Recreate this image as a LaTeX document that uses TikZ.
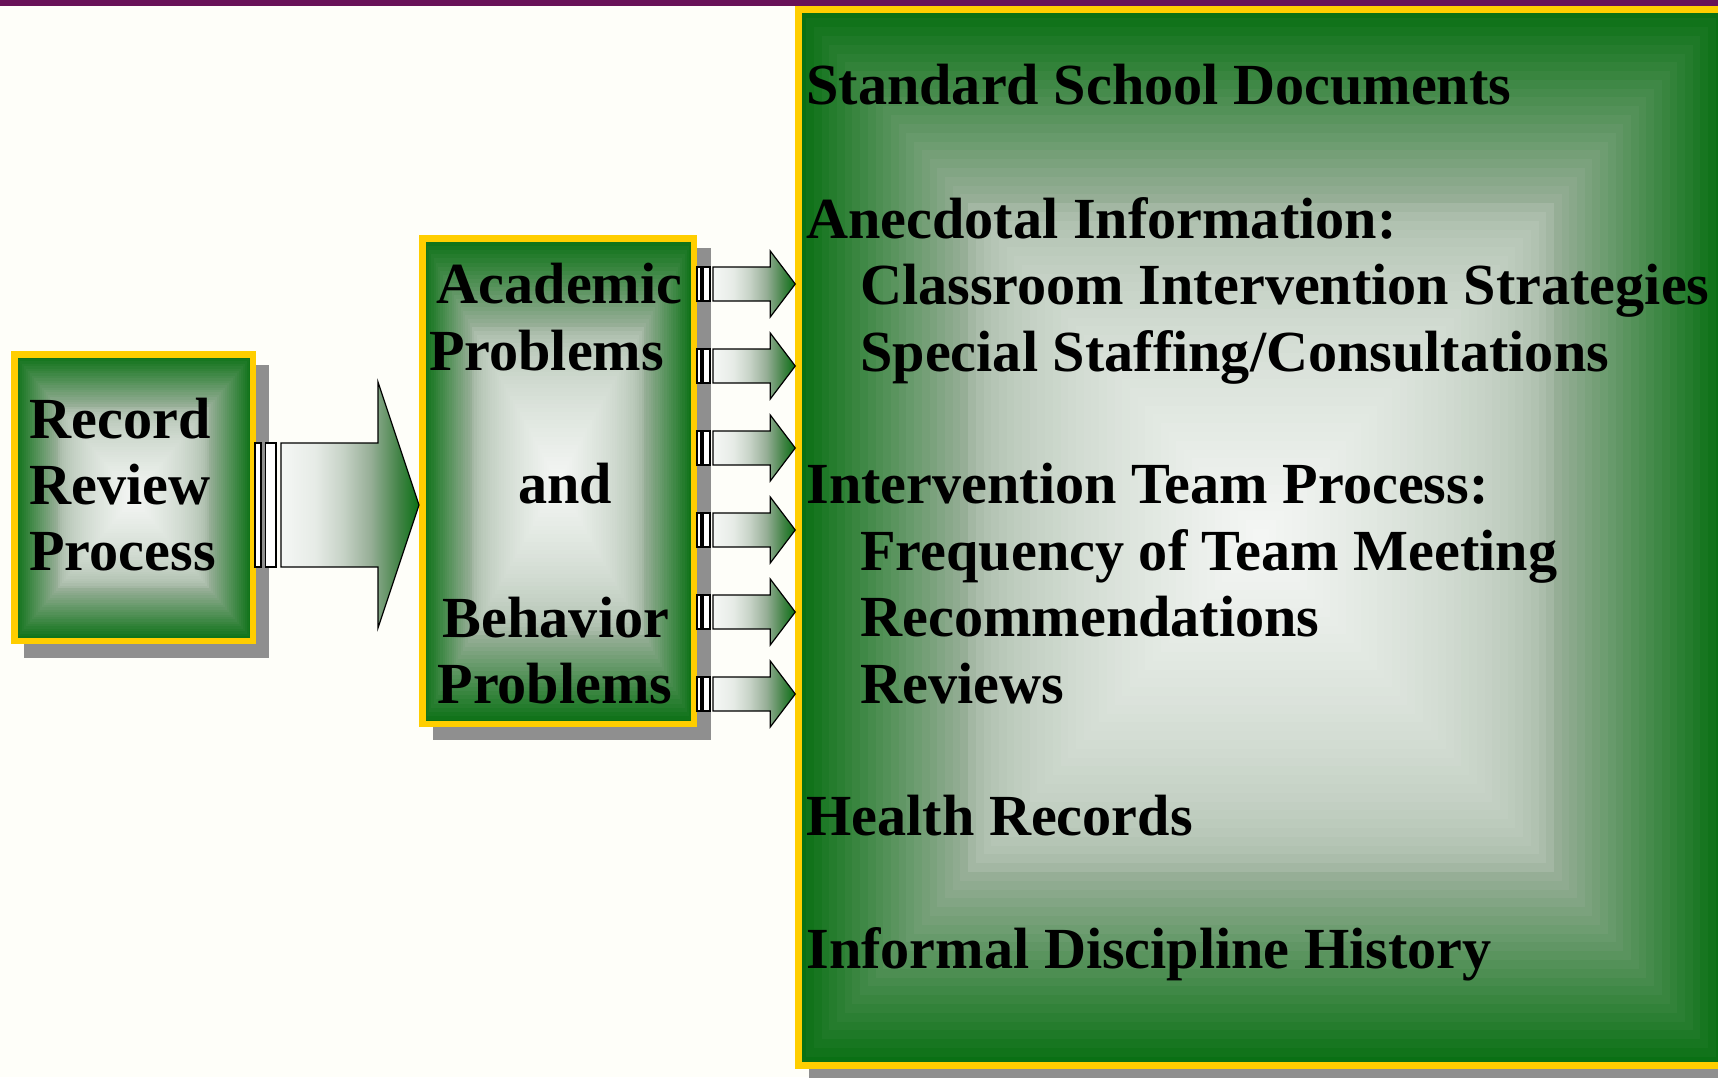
\documentclass[tikz,border=0pt]{standalone}
\usepackage{fontspec}
\setmainfont{Liberation Serif}
\usetikzlibrary{calc}

\definecolor{boxyellow}{RGB}{255,206,0}
\definecolor{topbar}{RGB}{104,18,88}
\definecolor{paper}{RGB}{254,254,249}
\definecolor{shadowgray}{RGB}{143,143,143}
\definecolor{ge}{RGB}{10,112,20}
\definecolor{g1}{RGB}{68,132,72}
\definecolor{g2}{RGB}{150,174,150}
\definecolor{g3}{RGB}{198,210,198}
\definecolor{g4}{RGB}{230,235,230}
\definecolor{gm}{RGB}{154,176,154}
\definecolor{gc}{RGB}{245,247,245}

\pgfdeclareverticalshading{edgeglow}{100bp}{color(0bp)=(gc); color(25bp)=(gc); color(37.5bp)=(g4); color(47.5bp)=(g3); color(57.5bp)=(g2); color(67.5bp)=(g1); color(75bp)=(ge); color(100bp)=(ge)}

\tikzset{
  gbox/.style={draw=boxyellow, line width=3.25pt, inner sep=0pt,
    path picture={
      \foreach \i in {0,...,59} {
        \pgfmathsetmacro\bandf{\i/60}
        \pgfmathsetmacro\bandp{\bandf<0.36 ? 100*\bandf/0.36 : 100*sqrt(max(0,(\bandf-0.36)/0.64))}
        \pgfmathtruncatemacro\bandlo{\bandf<0.36 ? 1 : 0}
        \ifnum\bandlo=1 \colorlet{band}{gm!\bandp!ge}\else\colorlet{band}{gc!\bandp!gm}\fi
        \fill[band] ($(path picture bounding box.north west)!\bandf!(path picture bounding box.center)$)
          rectangle ($(path picture bounding box.south east)!\bandf!(path picture bounding box.center)$);
      }
    }},
  arrowbody/.style={draw=black, line width=0.6pt, shade, shading=edgeglow, shading angle=270},
  arrowbar/.style={draw=black, line width=0.6pt, fill=white},
  txt/.style={font=\fontsize{29.1}{33.2}\selectfont\bfseries, inner sep=0pt, anchor=base west},
  ctxt/.style={txt, anchor=base},
}

\begin{document}
\begin{tikzpicture}[x=0.5pt, y=-0.5pt]

        \useasboundingbox (0,0) rectangle (1718,1077);
        \clip (0,0) rectangle (1718,1077);
        \fill[paper] (0,0) rectangle (1718,1077);
        \fill[topbar] (0,0) rectangle (1718,6);

        \fill[shadowgray] (24,365) rectangle (269,658);
        \fill[shadowgray] (433,248) rectangle (711,740);
        \fill[shadowgray] (809,20) rectangle (1740,1090);

        \node (rec) at (133.5,497.5) [gbox, minimum width=119.25pt, minimum height=143.25pt] {};
        \node (prob) at (558,481) [gbox, minimum width=135.75pt, minimum height=242.75pt] {};
        \node (docs) at (1261,537.5) [gbox, minimum width=462.5pt, minimum height=528pt] {};

        \coordinate (ya) at (0,505);
        \coordinate (bs) at (rec.east |- ya);
        \coordinate (bt) at (prob.west |- ya);
        \draw[arrowbar] ($(bs)+(-1,-62)$) rectangle ($(bs)+(5,62)$);
        \draw[arrowbar] ($(bs)+(9.7,-62)$) rectangle ($(bs)+(20,62)$);
        \draw[arrowbody] ($(bs)+(25,-62)$) -- ($(bt)+(-41,-62)$) -- ($(bt)+(-41,-123)$) -- (bt)
            -- ($(bt)+(-41,123)$) -- ($(bt)+(-41,62)$) -- ($(bs)+(25,62)$) -- cycle;

        \foreach \y in {284,366,448,530,612,694} {
            \coordinate (ya) at (0,\y);
            \coordinate (s) at (prob.east |- ya);
            \coordinate (t) at (docs.west |- ya);
            \draw[arrowbar] ($(s)+(0,-17)$) rectangle ($(s)+(4,17)$);
            \draw[arrowbar] ($(s)+(6,-17)$) rectangle ($(s)+(13,17)$);
            \draw[arrowbody] ($(s)+(16,-17)$) -- ($(t)+(-25,-17)$) -- ($(t)+(-25,-33)$) -- (t)
                -- ($(t)+(-25,33)$) -- ($(t)+(-25,17)$) -- ($(s)+(16,17)$) -- cycle;
        }

        \node (r1) at (29,438) [txt] {Record};
        \node (r2) at (29,504) [txt] {Review};
        \node (r3) at (29,570) [txt] {Process};

        \node (p1) at (559.5,303) [ctxt] {Academic};
        \node (p2) at (546.5,370) [ctxt] {Problems};
        \node (p3) at (565,503) [ctxt] {and};
        \node (p4) at (556,637) [ctxt] {Behavior};
        \node (p5) at (555,703) [ctxt] {Problems};

        \node (d1) at (806,104) [txt] {Standard School Documents};
        \node (d2) at (806,238) [txt] {Anecdotal Information:};
        \node (d3) at (860,304) [txt] {Classroom Intervention Strategies};
        \node (d4) at (860,371) [txt] {Special Staffing/Consultations};
        \node (d5) at (806,503) [txt] {Intervention Team Process:};
        \node (d6) at (860,570) [txt] {Frequency of Team Meeting};
        \node (d7) at (860,636) [txt] {Recommendations};
        \node (d8) at (860,703) [txt] {Reviews};
        \node (d9) at (806,835) [txt] {Health Records};
        \node (d10) at (806,968) [txt] {Informal Discipline History};

\end{tikzpicture}
\end{document}
